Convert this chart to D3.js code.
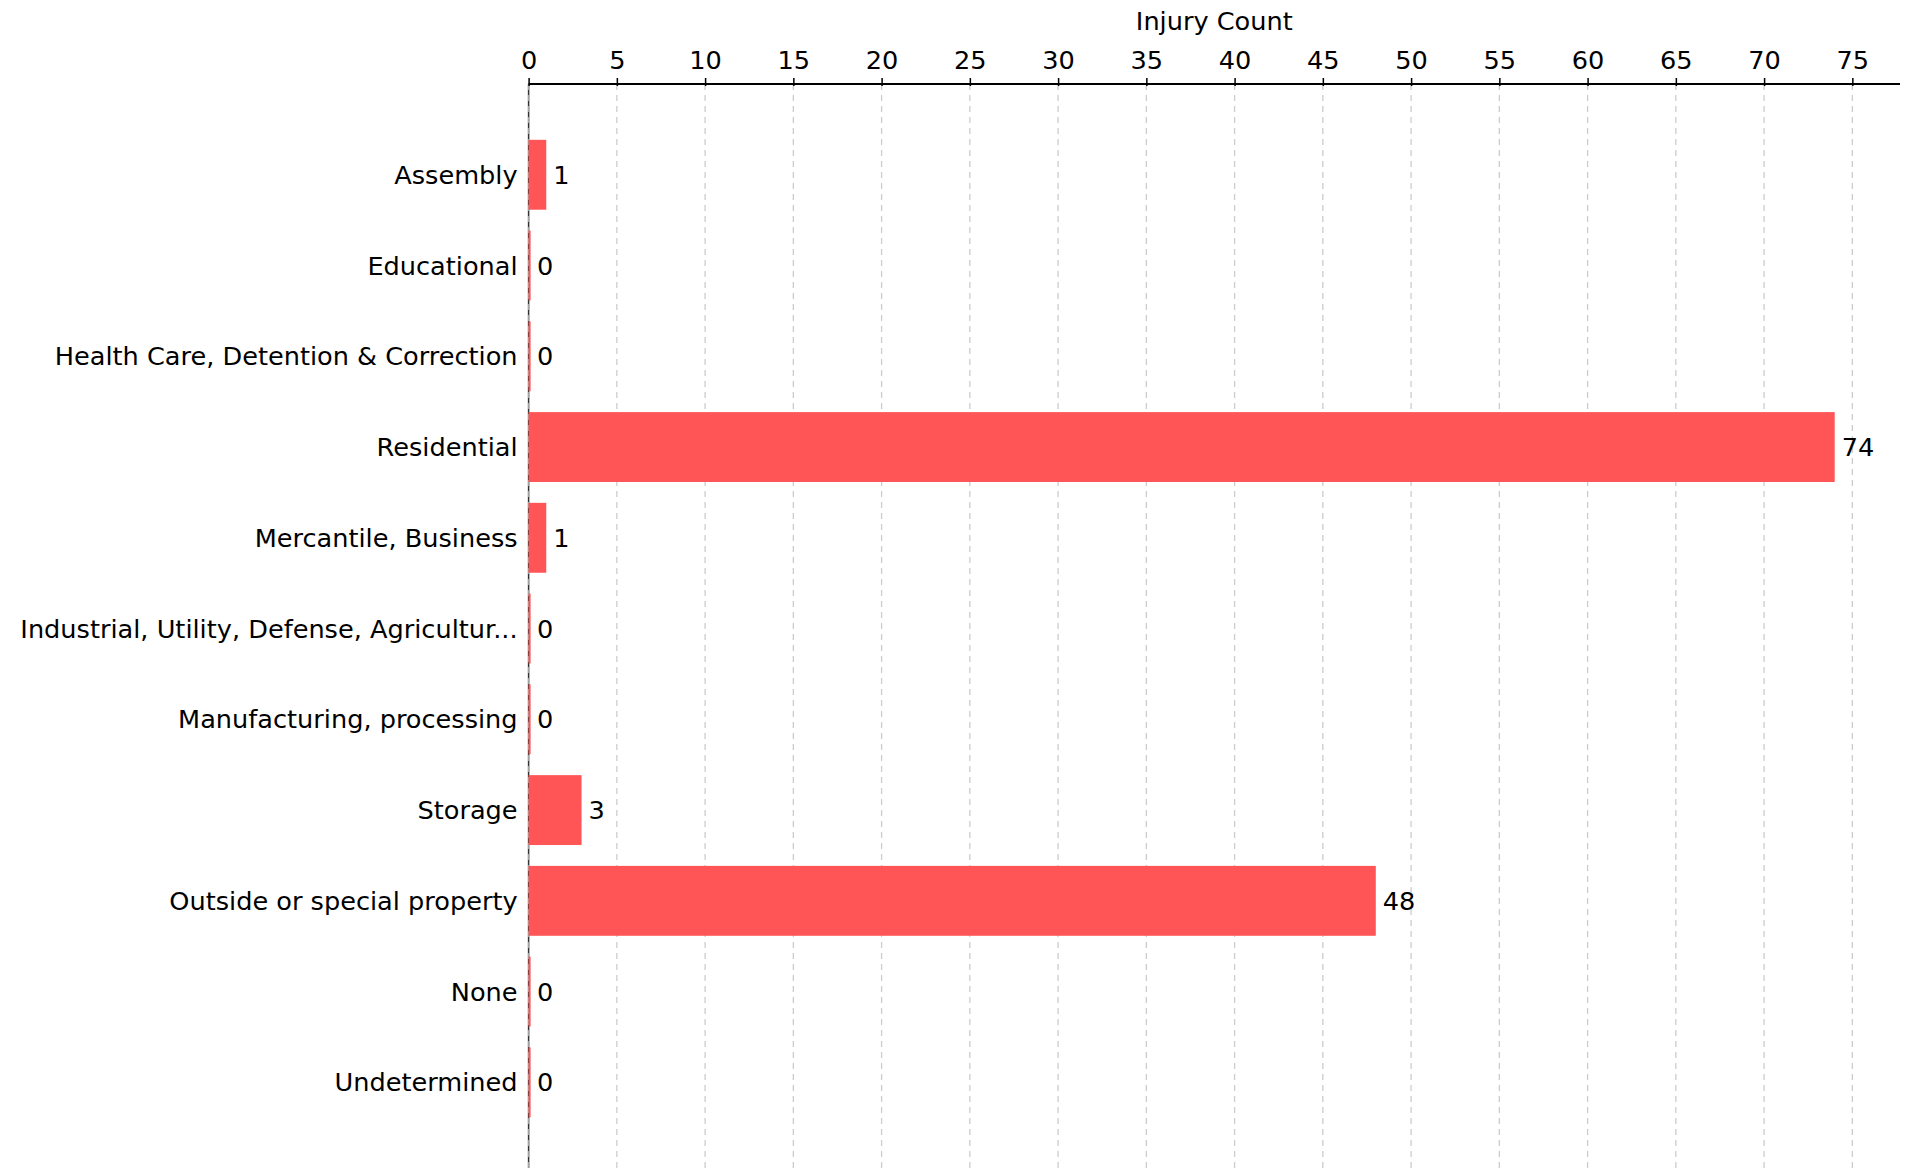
<!DOCTYPE html>
<html>
<head>
<meta charset="utf-8">
<script src="https://cdn.jsdelivr.net/npm/d3@7"></script>
<style>
  html, body { margin: 0; padding: 0; background: #fff; }
  svg { display: block; }
  text { font-family: "DejaVu Sans", sans-serif; }
</style>
</head>
<body>
<svg id="chart" width="1910" height="1168"></svg>
<script>
const categories = [
  "Assembly",
  "Educational",
  "Health Care, Detention & Correction",
  "Residential",
  "Mercantile, Business",
  "Industrial, Utility, Defense, Agricultur...",
  "Manufacturing, processing",
  "Storage",
  "Outside or special property",
  "None",
  "Undetermined"
];
const injuryCounts = [1, 0, 0, 74, 1, 0, 0, 3, 48, 0, 0];
const xTickValues = [0, 5, 10, 15, 20, 25, 30, 35, 40, 45, 50, 55, 60, 65, 70, 75];
const xAxisTitle = "Injury Count";

(function () {
const W = 1910, H = 1168;
const plotLeft = 528.6, plotRight = 1900, plotTop = 84;
const fontSize = 25.6;

const svg = d3.select("#chart");

const x = d3.scaleLinear()
  .domain([0, d3.max(injuryCounts) * 1.05])
  .range([plotLeft, plotRight]);

const step = 90.76;
const y = d3.scaleBand()
  .domain(categories)
  .range([plotTop, plotTop + 12 * step])
  .paddingInner(0.23)
  .paddingOuter(0.615);

// left axis line at zero
svg.append("line")
  .attr("x1", x(0)).attr("x2", x(0))
  .attr("y1", plotTop).attr("y2", H)
  .attr("stroke", "#333")
  .attr("stroke-width", 1.5);

// gridlines (under bars)
svg.append("g")
  .selectAll("line")
  .data(xTickValues)
  .join("line")
  .attr("x1", d => x(d)).attr("x2", d => x(d))
  .attr("y1", plotTop).attr("y2", H)
  .attr("stroke", "#cccccc")
  .attr("stroke-width", d => d === 0 ? 0.8 : 1.3)
  .attr("stroke-dasharray", "6,5");

// bars
svg.append("g")
  .selectAll("rect")
  .data(categories)
  .join("rect")
  .attr("x", x(0))
  .attr("y", d => y(d))
  .attr("height", y.bandwidth())
  .attr("width", (d, i) => Math.max(2, x(injuryCounts[i]) - x(0)))
  .attr("fill", "#ff5557");

// top axis
const xAxis = d3.axisTop(x)
  .tickValues(xTickValues)
  .tickSize(5)
  .tickPadding(10)
  .tickFormat(d3.format("d"));

const gx = svg.append("g")
  .attr("transform", `translate(0,${plotTop})`)
  .call(xAxis);
gx.select(".domain")
  .attr("d", `M${plotLeft},0H${plotRight}`)
  .attr("stroke", "#000")
  .attr("stroke-width", 2);
gx.selectAll(".tick line").attr("y2", -6).attr("y1", 2).attr("stroke", "#000").attr("stroke-width", 1.5);
gx.selectAll(".tick text")
  .attr("font-size", fontSize)
  .attr("font-family", "DejaVu Sans")
  .attr("fill", "#000");

// axis title
svg.append("text")
  .attr("x", (plotLeft + plotRight) / 2)
  .attr("y", 21)
  .attr("text-anchor", "middle")
  .attr("dominant-baseline", "central")
  .attr("font-size", fontSize)
  .attr("fill", "#000")
  .text(xAxisTitle);

// category labels
svg.append("g")
  .selectAll("text")
  .data(categories)
  .join("text")
  .attr("x", x(0) - 11)
  .attr("y", d => y(d) + y.bandwidth() / 2)
  .attr("text-anchor", "end")
  .attr("dominant-baseline", "central")
  .attr("font-size", fontSize)
  .attr("fill", "#000")
  .text(d => d);

// value labels
svg.append("g")
  .selectAll("text")
  .data(categories)
  .join("text")
  .attr("x", (d, i) => Math.max(x(injuryCounts[i]), x(0) + 1.5) + 7)
  .attr("y", d => y(d) + y.bandwidth() / 2)
  .attr("dominant-baseline", "central")
  .attr("font-size", fontSize)
  .attr("fill", "#000")
  .text((d, i) => injuryCounts[i]);
})();
</script>
</body>
</html>
